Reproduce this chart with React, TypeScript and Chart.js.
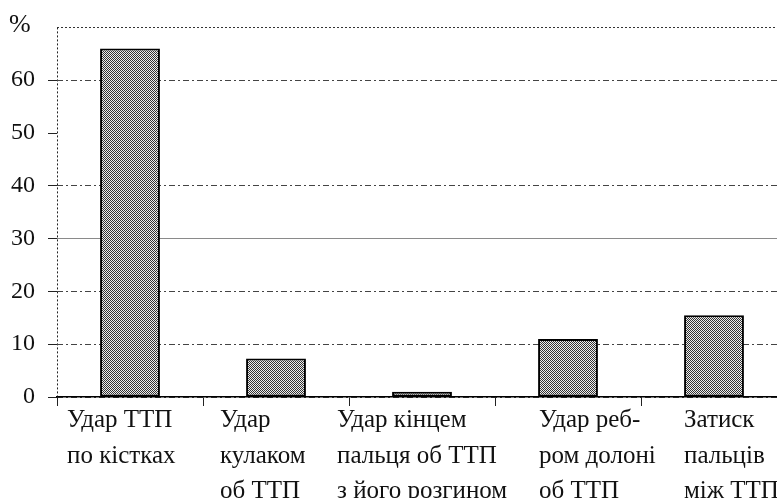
import React, { useEffect, useRef } from "react";
import { Chart, registerables } from "chart.js";

Chart.register(...registerables);

// ---- data ----
const categories: string[][] = [
  ["Удар ТТП", "по кістках"],
  ["Удар", "кулаком", "об ТТП"],
  ["Удар кінцем", "пальця об ТТП", "з його розгином"],
  ["Удар реб-", "ром долоні", "об ТТП"],
  ["Затиск", "пальців", "між ТТП"],
];
const values: number[] = [66, 7.3, 1.0, 11.0, 15.5];
const yTickValues: number[] = [0, 10, 20, 30, 40, 50, 60];
const unitLabel = "%";

// ---- layout (not data) ----
const labelShift = [-63, -56, -85, -29, -30];
const SERIF = '"Liberation Serif"';

function makePattern(): CanvasPattern | string {
  const pc = document.createElement("canvas");
  pc.width = 4;
  pc.height = 4;
  const g = pc.getContext("2d");
  if (!g) return "#999";
  g.fillStyle = "#eeeeee";
  g.fillRect(0, 0, 4, 4);
  g.fillStyle = "#333333";
  for (let y = 0; y < 4; y++) {
    for (let x = 0; x < 4; x++) {
      if ((x + y) % 2 === 0) g.fillRect(x, y, 1, 1);
    }
  }
  return g.createPattern(pc, "repeat") || "#999";
}

const xLabelPlugin = {
  id: "xLabelPlugin",
  afterDraw(chart: any) {
    const xs = chart.scales.x;
    const ctx = chart.ctx;
    ctx.save();
    ctx.font = `25px ${SERIF}`;
    ctx.fillStyle = "#111";
    ctx.textAlign = "left";
    ctx.textBaseline = "alphabetic";
    categories.forEach((lines, i) => {
      const cx = xs.getPixelForValue(i);
      lines.forEach((ln, j) => {
        ctx.fillText(ln, cx + labelShift[i], xs.top + 30 + j * 35.5);
      });
    });
    ctx.restore();
  },
};

export default function App() {
  const ref = useRef<HTMLCanvasElement | null>(null);
  useEffect(() => {
    let chart: Chart | null = null;
    let cancelled = false;
    const build = () => {
      if (cancelled || !ref.current || chart) return;
      const pattern = makePattern();
      chart = new Chart(ref.current, {
        type: "bar",
        data: {
          labels: categories.map((c) => c.join(" ")),
          datasets: [
            {
              data: values,
              backgroundColor: pattern as any,
              borderColor: "#000",
              borderWidth: 2,
              borderSkipped: false,
              barPercentage: 0.41,
              categoryPercentage: 1,
            },
          ],
        },
        plugins: [xLabelPlugin],
        options: {
          animation: false,
          responsive: true,
          maintainAspectRatio: false,
          devicePixelRatio: 1,
          layout: { padding: { left: 9, right: 13, top: 0, bottom: 0 } },
          plugins: {
            legend: { display: false },
            tooltip: { enabled: false },
            title: {
              display: true,
              text: unitLabel,
              align: "start",
              color: "#111",
              font: { family: SERIF, size: 26, weight: "normal", lineHeight: 1 },
              padding: { top: 12, bottom: -11 },
            },
          },
          scales: {
            x: {
              type: "category",
              offset: true,
              ticks: { display: false },
              grid: {
                offset: true,
                drawOnChartArea: true,
                color: (c: any) => (c.index === 0 ? "#222" : "rgba(0,0,0,0)"),
                tickColor: "#222",
                tickLength: 9,
                lineWidth: 1,
              },
              border: { display: true, color: "#000", width: 1.5, dash: () => [2, 2] },
              afterFit: (s: any) => {
                s.height = 133;
              },
            },
            y: {
              min: 0,
              max: 70,
              afterBuildTicks: (s: any) => {
                s.ticks = [...yTickValues, 70].map((v) => ({ value: v }));
              },
              ticks: {
                color: "#111",
                padding: 13,
                font: { family: SERIF, size: 24 },
                callback: (v: any) => (yTickValues.includes(Number(v)) ? String(v) : ""),
              },
              grid: {
                color: (c: any) => {
                  const v = c.tick ? c.tick.value : 0;
                  if (v === 70) return "#333";
                  if (v === 50) return "rgba(0,0,0,0)";
                  if (v === 30) return "#8a8a8a";
                  return "#444";
                },
                tickColor: (c: any) => (c.tick && c.tick.value === 70 ? "rgba(0,0,0,0)" : "#222"),
                tickLength: 9,
                lineWidth: 1,
              },
              border: {
                display: false,
                dash: (c: any) => {
                  const v = c.tick ? c.tick.value : -1;
                  if (v === 70) return [2, 2];
                  if (v === 30) return [];
                  return [6, 3, 2, 3];
                },
              },
              afterFit: (s: any) => {
                s.width = 48;
              },
            },
          },
        },
      });
    };
    const fontsApi: any = (document as any).fonts;
    const go = () => requestAnimationFrame(() => build());
    if (fontsApi && fontsApi.ready) {
      fontsApi.ready.then(go, go);
    } else {
      go();
    }
    return () => {
      cancelled = true;
      if (chart) chart.destroy();
    };
  }, []);

  return (
    <div
      style={{
        position: "absolute",
        left: 0,
        top: 0,
        width: 777,
        height: 498,
        overflow: "hidden",
        background: "#fff",
      }}
    >
      <div style={{ position: "relative", width: 800, height: 530 }}>
        <canvas ref={ref} />
      </div>
    </div>
  );
}
